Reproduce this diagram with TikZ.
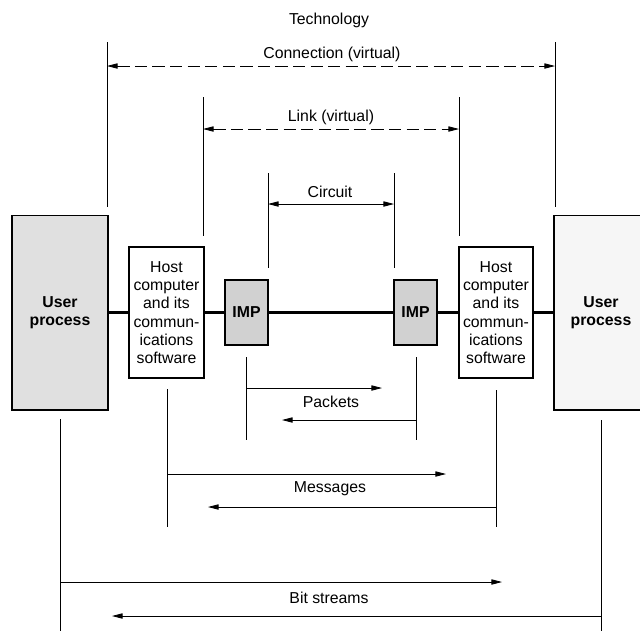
\documentclass[tikz,border=0pt]{standalone}
\usepackage{fontspec}
\setmainfont{Liberation Sans}
\usetikzlibrary{arrows.meta}
\begin{document}
\begin{tikzpicture}[x=0.02cm,y=-0.02cm,>={Triangle[length=6pt,width=3pt]},
  font=\fontsize{9}{10.4}\selectfont,
  box/.style={draw,line width=0.6pt,inner sep=0pt,align=center},
  tick/.style={line width=0.45pt},
  flow/.style={->,line width=0.45pt},
  virt/.style={<->,line width=0.45pt,dash pattern=on 7pt off 3pt}]
\useasboundingbox (0,0) rectangle (640,630);
% boxes along the line
\node[box,fill=gray!24,minimum width=1.92cm,minimum height=3.9cm,font=\fontsize{9}{10.4}\selectfont\bfseries] (userL) at (60,312.5) {User\\process};
\node[box,minimum width=1.5cm,minimum height=2.62cm] (hostL) at (166.5,312.5) {Host\\computer\\and its\\commun-\\ications\\software};
\node[box,fill=gray!36,minimum width=0.86cm,minimum height=1.3cm,font=\fontsize{9}{10.4}\selectfont\bfseries] (impL) at (246.5,312.5) {IMP};
\node[box,fill=gray!36,minimum width=0.86cm,minimum height=1.3cm,font=\fontsize{9}{10.4}\selectfont\bfseries] (impR) at (415.5,312.5) {IMP};
\node[box,minimum width=1.48cm,minimum height=2.62cm] (hostR) at (496,312.5) {Host\\computer\\and its\\commun-\\ications\\software};
\node[box,fill=gray!7,minimum width=1.88cm,minimum height=3.9cm,font=\fontsize{9}{10.4}\selectfont\bfseries] (userR) at (601,312.5) {User\\process};
\draw[line width=1.3pt] (userL) -- (hostL) -- (impL) -- (impR) -- (hostR) -- (userR);

\node (tech) at (329,20) {Technology};

% connection
\coordinate (cnL1) at (107,42); \coordinate (cnL2) at (107,207);
\coordinate (cnR1) at (555,42); \coordinate (cnR2) at (555,207);
\coordinate (cnA) at (107,66); \coordinate (cnB) at (555,66);
\draw[tick] (cnL1) -- (cnL2);
\draw[tick] (cnR1) -- (cnR2);
\draw[virt] (cnA) -- (cnB);
\node (conn) at (332,54) {Connection (virtual)};

% link
\coordinate (lkL1) at (203,97); \coordinate (lkL2) at (203,236);
\coordinate (lkR1) at (459,97); \coordinate (lkR2) at (459,236);
\coordinate (lkA) at (203,129); \coordinate (lkB) at (459,129);
\draw[tick] (lkL1) -- (lkL2);
\draw[tick] (lkR1) -- (lkR2);
\draw[virt] (lkA) -- (lkB);
\node (link) at (331,117) {Link (virtual)};

% circuit
\coordinate (ctL1) at (268,173); \coordinate (ctL2) at (268,268);
\coordinate (ctR1) at (394,173); \coordinate (ctR2) at (394,268);
\coordinate (ctA) at (268,204); \coordinate (ctB) at (394,204);
\draw[tick] (ctL1) -- (ctL2);
\draw[tick] (ctR1) -- (ctR2);
\draw[<->,line width=0.45pt] (ctA) -- (ctB);
\node (circ) at (330,192) {Circuit};

% packets
\coordinate (pkL1) at (246,357); \coordinate (pkL2) at (246,440);
\coordinate (pkR1) at (416,357); \coordinate (pkR2) at (416,440);
\coordinate (pkA) at (246,388); \coordinate (pkB) at (382,388);
\coordinate (pkC) at (416,420); \coordinate (pkD) at (282,420);
\draw[tick] (pkL1) -- (pkL2);
\draw[tick] (pkR1) -- (pkR2);
\draw[flow] (pkA) -- (pkB);
\draw[flow] (pkC) -- (pkD);
\node (pack) at (331,402) {Packets};

% messages
\coordinate (msL1) at (167,389); \coordinate (msL2) at (167,527);
\coordinate (msR1) at (496,390); \coordinate (msR2) at (496,527);
\coordinate (msA) at (167,474); \coordinate (msB) at (446,474);
\coordinate (msC) at (496,507); \coordinate (msD) at (208,507);
\draw[tick] (msL1) -- (msL2);
\draw[tick] (msR1) -- (msR2);
\draw[flow] (msA) -- (msB);
\draw[flow] (msC) -- (msD);
\node (mess) at (330,489) {Messages};

% bit streams
\coordinate (bsL1) at (60,419); \coordinate (bsL2) at (60,632);
\coordinate (bsR1) at (601,420); \coordinate (bsR2) at (601,632);
\coordinate (bsA) at (60,582); \coordinate (bsB) at (502,582);
\coordinate (bsC) at (601,616); \coordinate (bsD) at (112,616);
\draw[tick] (bsL1) -- (bsL2);
\draw[tick] (bsR1) -- (bsR2);
\draw[flow] (bsA) -- (bsB);
\draw[flow] (bsC) -- (bsD);
\node (bits) at (329,598) {Bit streams};
\end{tikzpicture}
\end{document}
